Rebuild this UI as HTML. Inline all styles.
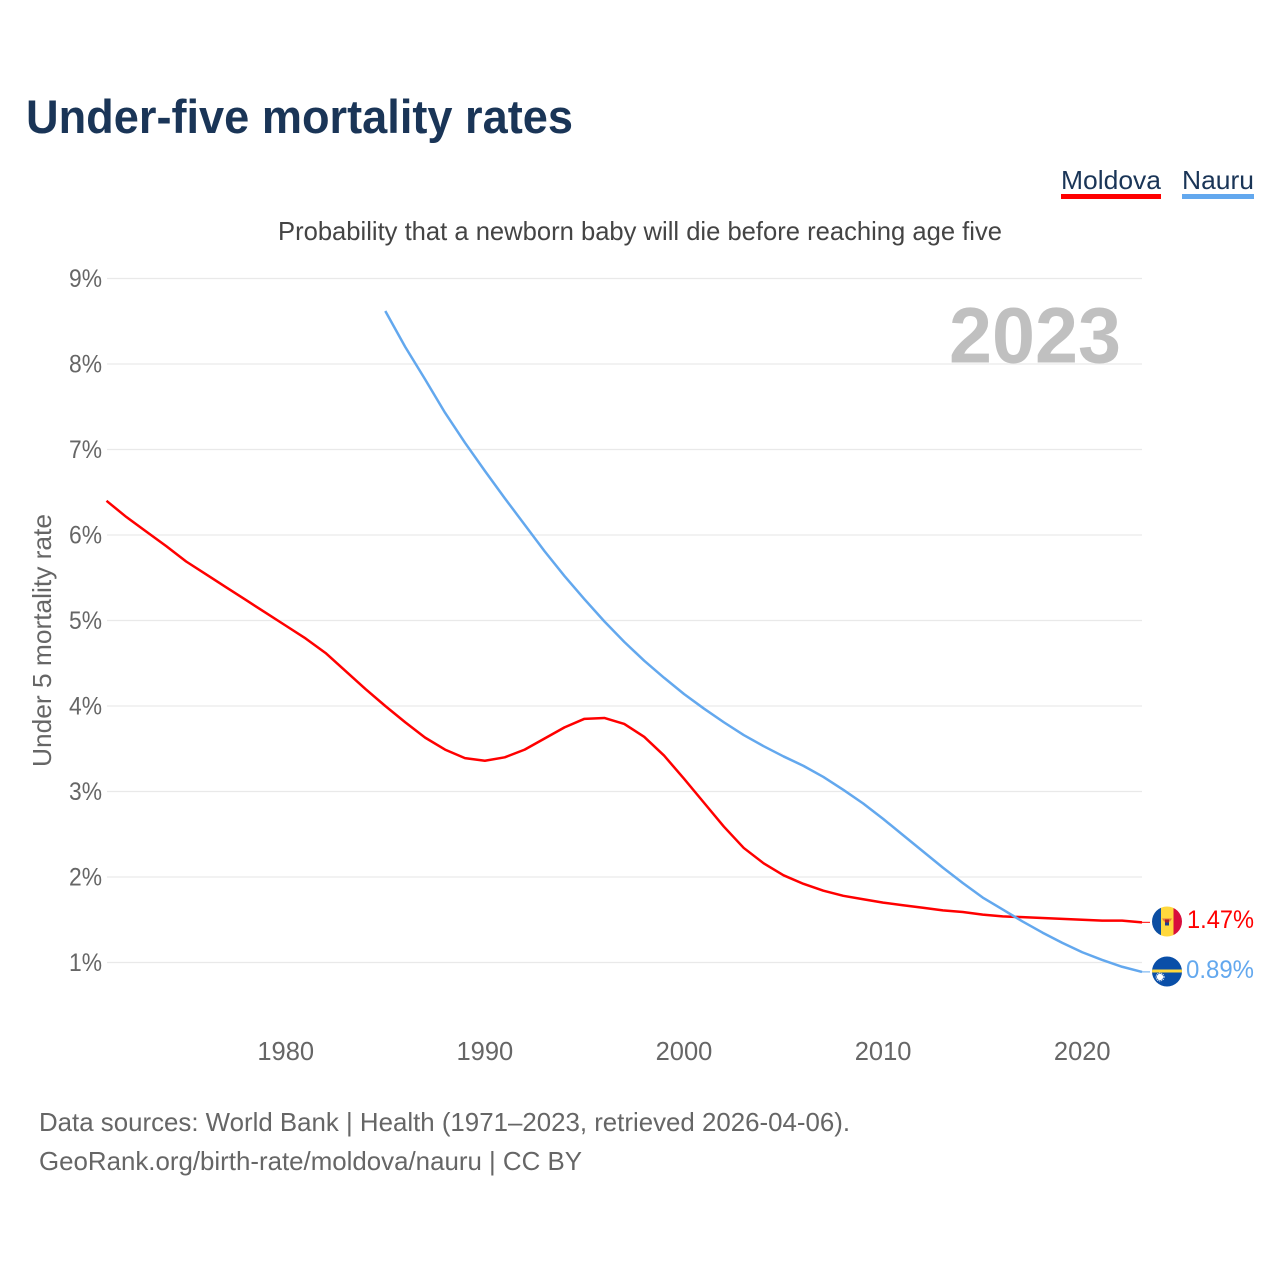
<!DOCTYPE html>
<html lang="en">
<head>
<meta charset="utf-8">
<title>Under-five mortality rates</title>
<style>
html,body{margin:0;padding:0;background:#fff;}
svg{display:block;font-family:"Liberation Sans",sans-serif;}
</style>
</head>
<body>
<svg id="chart" xmlns="http://www.w3.org/2000/svg" width="1280" height="1280" viewBox="0 0 1280 1280">
  <rect width="1280" height="1280" fill="#fff"/>
  <text x="26" y="133" font-size="47" font-weight="700" fill="#1a3557" textLength="547" lengthAdjust="spacingAndGlyphs">Under-five mortality rates</text>
  <text x="1061" y="189" font-size="26" fill="#1a3557" textLength="100" lengthAdjust="spacingAndGlyphs">Moldova</text>
  <rect x="1061" y="194" width="100" height="5" fill="#ff0000"/>
  <text x="1182" y="189" font-size="26" fill="#1a3557" textLength="72" lengthAdjust="spacingAndGlyphs">Nauru</text>
  <rect x="1182" y="194" width="72" height="5" fill="#63a8ee"/>
  <text x="278" y="240" font-size="26" fill="#444" textLength="724" lengthAdjust="spacingAndGlyphs">Probability that a newborn baby will die before reaching age five</text>
  <text transform="translate(51,640.5) rotate(-90)" text-anchor="middle" font-size="26" fill="#666" textLength="253" lengthAdjust="spacingAndGlyphs">Under 5 mortality rate</text>
  <g id="grid"></g>
  <g id="yticks"></g>
  <g id="xticks"></g>
  <text x="949" y="362.5" font-size="79" font-weight="700" fill="#c0c0c0" textLength="172" lengthAdjust="spacingAndGlyphs">2023</text>
  <g id="series"></g>
  <g>
    <clipPath id="clip-md"><circle cx="1167" cy="921.5" r="15"/></clipPath>
    <g clip-path="url(#clip-md)">
      <rect x="1152" y="906" width="9" height="31" fill="#0b4ea2"/>
      <rect x="1161" y="906" width="12.5" height="31" fill="#ffd83d"/>
      <rect x="1173.5" y="906" width="9" height="31" fill="#d80f3c"/>
      <path d="M1162 918.5h10l-2 3h-6z" fill="#e8743b"/>
      <rect x="1165" y="919.5" width="4" height="3.5" fill="#a8232c"/>
      <rect x="1165" y="922.5" width="4" height="3" fill="#1d3f8f"/>
    </g>
  </g>
  <g>
    <clipPath id="clip-nr"><circle cx="1167" cy="971.5" r="15"/></clipPath>
    <g clip-path="url(#clip-nr)">
      <rect x="1152" y="956" width="30" height="31" fill="#0a4fa8"/>
      <rect x="1152" y="969.5" width="30" height="3" fill="#ffd83d"/>
      <circle cx="1160" cy="977" r="3.2" fill="#fff"/>
      <circle cx="1160" cy="977" r="4" fill="none" stroke="#fff" stroke-width="1" stroke-dasharray="1 1"/>
    </g>
  </g>
  <text id="val-md" x="1187" y="928" font-size="25" fill="#ff0000" textLength="67" lengthAdjust="spacingAndGlyphs"></text>
  <text id="val-nr" x="1186" y="978" font-size="25" fill="#63a8ee" textLength="68" lengthAdjust="spacingAndGlyphs"></text>
  <text x="39" y="1131" font-size="26" fill="#666" textLength="811" lengthAdjust="spacingAndGlyphs">Data sources: World Bank | Health (1971–2023, retrieved 2026-04-06).</text>
  <text x="39" y="1170" font-size="26" fill="#666" textLength="543" lengthAdjust="spacingAndGlyphs">GeoRank.org/birth-rate/moldova/nauru | CC BY</text>
</svg>
<script>
const moldovaStartYear = 1971;
const nauruStartYear = 1985;
const moldovaValues = [6.40,6.21,6.04,5.87,5.69,5.54,5.39,5.24,5.09,4.94,4.79,4.62,4.41,4.20,4.00,3.81,3.63,3.49,3.39,3.36,3.40,3.49,3.62,3.75,3.85,3.86,3.79,3.64,3.42,3.15,2.87,2.59,2.34,2.16,2.02,1.92,1.84,1.78,1.74,1.70,1.67,1.64,1.61,1.59,1.56,1.54,1.53,1.52,1.51,1.50,1.49,1.49,1.47];
const nauruValues = [8.62,8.20,7.82,7.43,7.08,6.75,6.43,6.12,5.81,5.52,5.25,4.99,4.75,4.53,4.33,4.14,3.97,3.81,3.66,3.53,3.41,3.30,3.17,3.02,2.86,2.68,2.49,2.30,2.11,1.93,1.76,1.62,1.48,1.35,1.23,1.12,1.03,0.95,0.89];
const yTickValues = [1,2,3,4,5,6,7,8,9];
const xTickValues = [1980,1990,2000,2010,2020];
const moldovaLabel = "1.47%";
const nauruLabel = "0.89%";

const NS = "http://www.w3.org/2000/svg";
function xScale(year){ return 106.5 + (year - 1971) * (1142 - 106.5) / 52; }
function yScale(v){ return 962.5 - (v - 1) * 85.5; }

const gridG = document.getElementById("grid");
const yG = document.getElementById("yticks");
yTickValues.forEach(function(t){
  const l = document.createElementNS(NS, "line");
  
  
  l.setAttribute("x1", 107);
  l.setAttribute("x2", 1142);
  l.setAttribute("y1", yScale(t));
  l.setAttribute("y2", yScale(t));
  l.setAttribute("stroke", "#e9e9e9");
  l.setAttribute("stroke-width", 1.3);
  gridG.appendChild(l);
  const s = document.createElementNS(NS, "text");
  
  
  s.setAttribute("x", 69);
  s.setAttribute("y", yScale(t) + 8.5);
  s.setAttribute("font-size", 25);
  s.setAttribute("fill", "#666");
  s.setAttribute("textLength", 33);
  s.setAttribute("lengthAdjust", "spacingAndGlyphs");
  s.textContent = t + "%";
  yG.appendChild(s);
});

const xG = document.getElementById("xticks");
xTickValues.forEach(function(t){
  const s = document.createElementNS(NS, "text");
  
  
  s.setAttribute("x", xScale(t));
  s.setAttribute("y", 1060);
  s.setAttribute("font-size", 25.5);
  s.setAttribute("fill", "#666");
  s.setAttribute("text-anchor", "middle");
  s.textContent = t;
  xG.appendChild(s);
});

function linePoints(start, values){
  return values.map(function(v, i){ return xScale(start + i).toFixed(2) + "," + yScale(v).toFixed(2); }).join(" ");
}

const seriesG = document.getElementById("series");

const moldovaLine = document.createElementNS(NS, "polyline");


moldovaLine.setAttribute("points", linePoints(moldovaStartYear, moldovaValues));
moldovaLine.setAttribute("fill", "none");
moldovaLine.setAttribute("stroke", "#ff0000");
moldovaLine.setAttribute("stroke-width", 2.5);
moldovaLine.setAttribute("stroke-linejoin", "round");
seriesG.appendChild(moldovaLine);

const nauruLine = document.createElementNS(NS, "polyline");


nauruLine.setAttribute("points", linePoints(nauruStartYear, nauruValues));
nauruLine.setAttribute("fill", "none");
nauruLine.setAttribute("stroke", "#63a8ee");
nauruLine.setAttribute("stroke-width", 2.5);
nauruLine.setAttribute("stroke-linejoin", "round");
seriesG.appendChild(nauruLine);

const moldovaLeader = document.createElementNS(NS, "line");


moldovaLeader.setAttribute("x1", xScale(2023));
moldovaLeader.setAttribute("x2", 1150);
moldovaLeader.setAttribute("y1", yScale(moldovaValues[moldovaValues.length - 1]));
moldovaLeader.setAttribute("y2", yScale(moldovaValues[moldovaValues.length - 1]));
moldovaLeader.setAttribute("stroke", "#ff0000");
moldovaLeader.setAttribute("stroke-width", 1);
seriesG.appendChild(moldovaLeader);

const nauruLeader = document.createElementNS(NS, "line");


nauruLeader.setAttribute("x1", xScale(2023));
nauruLeader.setAttribute("x2", 1150);
nauruLeader.setAttribute("y1", yScale(nauruValues[nauruValues.length - 1]));
nauruLeader.setAttribute("y2", yScale(nauruValues[nauruValues.length - 1]));
nauruLeader.setAttribute("stroke", "#63a8ee");
nauruLeader.setAttribute("stroke-width", 1);
seriesG.appendChild(nauruLeader);

document.getElementById("val-md").textContent = moldovaLabel;
document.getElementById("val-nr").textContent = nauruLabel;
</script>
</body>
</html>
